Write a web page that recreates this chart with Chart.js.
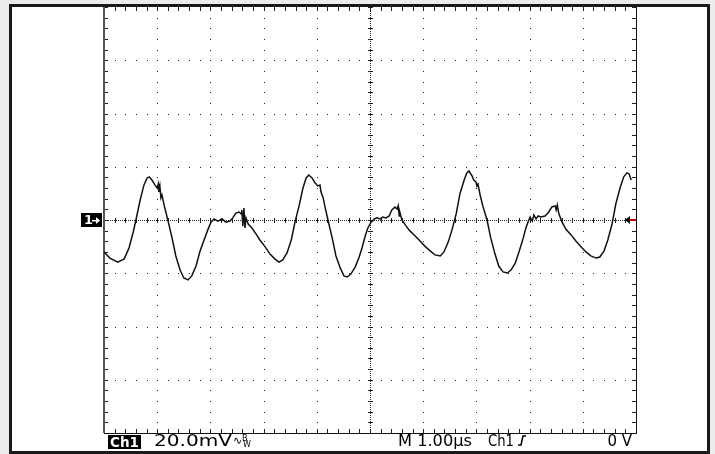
<!DOCTYPE html>
<html>
<head>
<meta charset="utf-8">
<script src="https://cdn.jsdelivr.net/npm/chart.js@4"></script>
<style>
  html, body { margin: 0; padding: 0; background: #ececec; }
  #wrap { width: 715px; height: 454px; }
</style>
</head>
<body>
<div id="wrap"><canvas id="scope" width="715" height="454"></canvas></div>
<script>
// time in µs (1 µs / div), voltage in mV (20 mV / div)
const times = [
  0.00, 0.11, 0.26, 0.38, 0.47, 0.55, 0.60, 0.68, 0.75, 0.81, 0.85, 0.90, 0.96, 1.00, 1.02, 1.03, 1.05, 1.07, 1.09, 1.13,
  1.20, 1.28, 1.35, 1.43, 1.50, 1.58, 1.65, 1.73, 1.80, 1.88, 1.95, 2.01, 2.07, 2.14, 2.22, 2.29, 2.37, 2.42, 2.48, 2.54,
  2.58, 2.59, 2.61, 2.63, 2.65, 2.67, 2.71, 2.78, 2.86, 2.93, 3.03, 3.12, 3.21, 3.29, 3.36, 3.44, 3.52, 3.59, 3.67, 3.74,
  3.80, 3.85, 3.91, 3.97, 4.02, 4.06, 4.08, 4.12, 4.15, 4.21, 4.29, 4.36, 4.44, 4.51, 4.57, 4.64, 4.72, 4.79, 4.85, 4.91,
  4.96, 5.02, 5.08, 5.13, 5.19, 5.24, 5.30, 5.36, 5.41, 5.47, 5.51, 5.53, 5.55, 5.56, 5.60, 5.68, 5.75, 5.85, 5.94, 6.03,
  6.13, 6.22, 6.32, 6.39, 6.47, 6.54, 6.62, 6.69, 6.77, 6.82, 6.86, 6.92, 6.95, 6.99, 7.01, 7.03, 7.07, 7.12, 7.20, 7.27,
  7.35, 7.42, 7.50, 7.58, 7.65, 7.73, 7.80, 7.88, 7.93, 7.97, 8.01, 8.05, 8.08, 8.12, 8.16, 8.21, 8.29, 8.36, 8.42, 8.48,
  8.50, 8.52, 8.55, 8.61, 8.68, 8.78, 8.87, 8.97, 9.06, 9.15, 9.25, 9.32, 9.40, 9.47, 9.55, 9.62, 9.70, 9.77, 9.83, 9.87,
  9.91
];
const volts = [
  -12.0, -14.3, -15.8, -14.6, -10.5, -4.5, 0.0, 7.5, 13.1, 15.8, 16.2, 15.0, 13.1, 12.0, 13.5, 10.5, 12.8, 8.3, 9.4, 5.6,
  0.0, -6.8, -13.5, -18.8, -21.8, -22.5, -21.0, -17.3, -12.0, -7.5, -3.8, -0.8, 0.4, -0.4, 0.4, -0.8, -0.4, 0.8, 2.6, 3.0,
  2.3, 3.8, -2.3, 4.5, -3.0, 0.8, -1.5, -3.0, -5.3, -7.5, -10.1, -12.8, -14.6, -15.8, -15.0, -12.4, -7.5, -0.8, 5.6, 12.0,
  15.8, 16.9, 15.8, 13.9, 12.8, 13.1, 10.5, 8.3, 5.3, 0.0, -6.8, -13.5, -18.0, -21.0, -21.4, -20.3, -17.7, -14.3, -10.5, -6.0,
  -3.0, -0.8, 0.4, 0.8, 0.4, 1.1, 0.8, 1.5, 3.8, 4.9, 4.1, 5.3, 1.5, 3.0, 0.0, -2.3, -4.1, -6.0, -7.9, -9.8,
  -11.6, -13.1, -13.5, -12.0, -8.3, -3.8, 2.3, 9.8, 15.0, 17.7, 18.4, 16.5, 15.0, 14.3, 12.8, 13.5, 9.4, 5.3, 0.0, -6.8,
  -12.8, -17.3, -19.5, -19.9, -18.8, -16.2, -12.0, -6.8, -3.0, -0.8, 1.1, -0.4, 1.9, 0.4, 1.5, 1.1, 1.5, 3.0, 4.9, 5.3,
  3.8, 5.6, 2.3, -0.8, -3.4, -5.6, -7.9, -10.1, -12.0, -13.5, -14.3, -13.9, -11.6, -7.5, -1.5, 6.0, 12.0, 16.2, 17.7, 17.3,
  15.0
];

const xDivs = [0, 1, 2, 3, 4, 5, 6, 7, 8, 9, 10];
const yDivs = [-80, -60, -40, -20, 0, 20, 40, 60, 80];

const chLabel = "Ch1";
const voltLabel = "20.0mV";
const timeLabel = "M 1.00µs";
const trigLabel = "Ch1";
const levelLabel = "0 V";

const points = times.map((t, i) => ({ x: t, y: volts[i] }));

// draw text stretched to a given width (the scope readout font is wide)
function fitText(ctx, text, x, y, w) {
  const m = ctx.measureText(text).width;
  ctx.save();
  ctx.translate(x, y);
  ctx.scale(w / m, 1);
  ctx.fillText(text, 0, 0);
  ctx.restore();
}

const graticule = {
  id: "graticule",
  beforeDraw(chart) {
    const ctx = chart.ctx;
    ctx.save();
    ctx.fillStyle = "#ececec";
    ctx.fillRect(0, 0, 715, 454);
    ctx.fillStyle = "#ffffff";
    ctx.fillRect(10, 5, 699, 448);
    ctx.strokeStyle = "#1a1a1a";
    ctx.lineWidth = 3;
    ctx.strokeRect(10.5, 5.5, 698, 447);
    ctx.restore();
  },
  beforeDatasetsDraw(chart) {
    const ctx = chart.ctx;
    const xs = chart.scales.x, ys = chart.scales.y;
    const a = chart.chartArea;
    ctx.save();
    ctx.fillStyle = "#222";
    // dotted major grid
    xDivs.forEach(v => {
      const px = Math.round(xs.getPixelForValue(v));
      for (let s = -80; s <= 80; s += 4) {
        const py = Math.round(ys.getPixelForValue(s));
        ctx.fillRect(px, py, 1, 1);
      }
    });
    yDivs.forEach(v => {
      const py = Math.round(ys.getPixelForValue(v));
      for (let s = 0; s <= 10; s += 0.2) {
        const px = Math.round(xs.getPixelForValue(s));
        ctx.fillRect(px, py, 1, 1);
      }
    });
    // center axes, dense dots and minor ticks
    const cx = Math.round(xs.getPixelForValue(5));
    const cy = Math.round(ys.getPixelForValue(0));
    for (let px = a.left; px <= a.right; px += 2) ctx.fillRect(px, cy, 1, 1);
    for (let py = a.top; py <= a.bottom; py += 2) ctx.fillRect(cx, py, 1, 1);
    for (let s = 0; s <= 10.001; s += 0.2) {
      const px = Math.round(xs.getPixelForValue(s));
      ctx.fillRect(px, cy - 2, 1, 5);
      ctx.fillRect(px, a.top, 1, 4);
      ctx.fillRect(px, a.bottom - 4, 1, 4);
    }
    for (let s = -80; s <= 80.001; s += 4) {
      const py = Math.round(ys.getPixelForValue(s));
      ctx.fillRect(cx - 2, py, 5, 1);
      ctx.fillRect(a.left, py, 4, 1);
      ctx.fillRect(a.right - 4, py, 4, 1);
    }
    // plot border
    ctx.fillStyle = "#555";
    ctx.fillRect(a.left - 1, a.top, 2, a.bottom - a.top);
    ctx.fillStyle = "#111";
    ctx.fillRect(a.right, a.top, 1, a.bottom - a.top + 1);
    ctx.fillRect(a.left, a.bottom, a.right - a.left, 1);
    ctx.restore();
  },
  afterDraw(chart) {
    const ctx = chart.ctx;
    const ys = chart.scales.y;
    const cy = Math.round(ys.getPixelForValue(0));
    ctx.save();
    // channel 1 ground marker
    ctx.fillStyle = "#000";
    ctx.fillRect(81, cy - 7, 21, 14);
    ctx.fillStyle = "#fff";
    ctx.font = "bold 13px 'DejaVu Sans'";
    ctx.textBaseline = "middle";
    ctx.fillText("1", 84, cy + 1);
    ctx.fillRect(92, cy, 7, 1.5);
    ctx.beginPath();
    ctx.moveTo(100, cy + 0.5);
    ctx.lineTo(96, cy - 3);
    ctx.lineTo(96, cy + 4);
    ctx.closePath();
    ctx.fill();
    // trigger level marker
    ctx.fillStyle = "#c00000";
    ctx.fillRect(629, cy - 1, 7, 2);
    ctx.fillStyle = "#000";
    ctx.beginPath();
    ctx.moveTo(625, cy);
    ctx.lineTo(630, cy - 4);
    ctx.lineTo(630, cy + 4);
    ctx.closePath();
    ctx.fill();
    // readout line
    ctx.textBaseline = "alphabetic";
    ctx.fillStyle = "#000";
    ctx.fillRect(108, 435, 33, 14);
    ctx.fillStyle = "#fff";
    ctx.font = "bold 14px 'DejaVu Sans'";
    fitText(ctx, chLabel, 110, 447, 29);
    ctx.fillStyle = "#000";
    ctx.font = "15px 'DejaVu Sans'";
    fitText(ctx, voltLabel, 154, 446, 78);
    ctx.font = "11px 'DejaVu Sans'";
    ctx.fillText("∿", 233, 444);
    ctx.font = "8px 'DejaVu Sans'";
    ctx.fillText("B", 242, 441);
    ctx.fillText("W", 243, 447);
    ctx.font = "15px 'DejaVu Sans'";
    fitText(ctx, timeLabel, 398, 446, 74);
    fitText(ctx, trigLabel, 488, 446, 26);
    ctx.lineWidth = 1.5;
    ctx.beginPath();
    ctx.moveTo(518, 445);
    ctx.lineTo(521, 445);
    ctx.lineTo(523, 436);
    ctx.lineTo(526, 436);
    ctx.stroke();
    ctx.textAlign = "right";
    ctx.fillText(levelLabel, 632, 446);
    ctx.restore();
  }
};

new Chart(document.getElementById("scope"), {
  type: "scatter",
  data: {
    datasets: [{
      data: points,
      showLine: true,
      borderColor: "#111",
      borderWidth: 1.5,
      pointRadius: 0,
      tension: 0
    }]
  },
  options: {
    responsive: false,
    animation: false,
    layout: { padding: { left: 104, right: 79, top: 7, bottom: 21 } },
    plugins: { legend: { display: false }, tooltip: { enabled: false } },
    scales: {
      x: { type: "linear", min: 0, max: 10, display: false },
      y: { type: "linear", min: -80, max: 80, display: false }
    }
  },
  plugins: [graticule]
});
</script>
</body>
</html>
